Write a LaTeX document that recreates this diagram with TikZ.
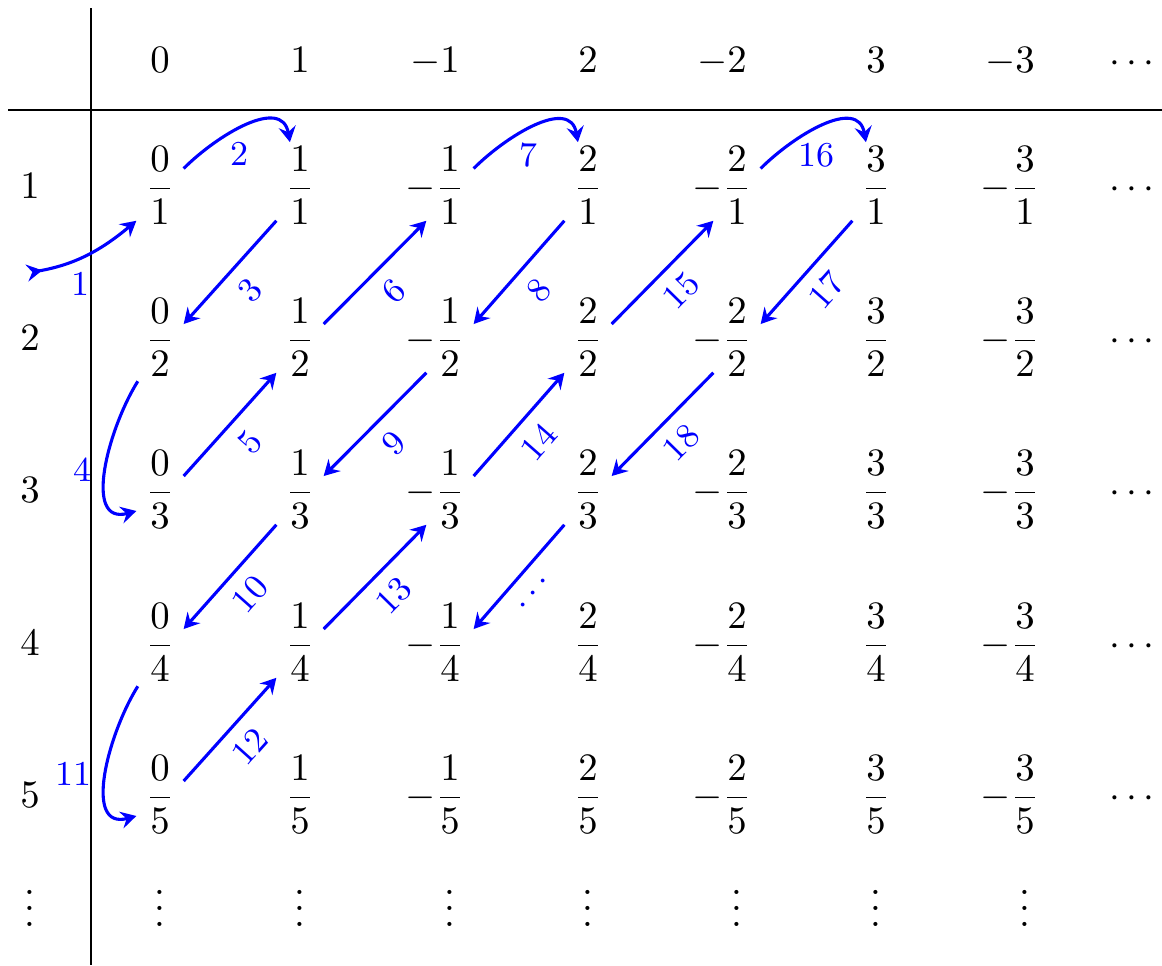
\documentclass[tikz,border=0pt]{standalone}
\usepackage{amsmath}
\usepackage{amssymb}
\usepackage{xcolor}
\usepackage{tikz}
\usetikzlibrary{arrows.meta, positioning}

\newcommand{\mfrac}[2]{\llap{$-$}{\dfrac{#1}{#2}}}

\tikzset{
  >={Stealth[length=4pt, width=4.4pt, inset=1.4pt]},
  entry/.style={anchor=base, inner xsep=2.2pt, inner ysep=1pt},
  head/.style={anchor=base},
  walk/.style={blue, thick, ->},
  num/.style={font=\small, text=blue},
}

\begin{document}
\begin{tikzpicture}[x=0.00906cm, y=-0.00906cm]
  \useasboundingbox (0,0) rectangle (1162,965);
  % Table rules
  \draw (91,8) -- (91,965);
  \draw (8,110) -- (1162,110);
  % Column heads
  \node[head] (h1) at (160,72) {$0$};
  \node[head] (h2) at (300,72) {$1$};
  \node[head] (h3) at (435,72) {$-1$};
  \node[head] (h4) at (588,72) {$2$};
  \node[head] (h5) at (722,72) {$-2$};
  \node[head] (h6) at (876,72) {$3$};
  \node[head] (h7) at (1010,72) {$-3$};
  \node[head] (h8) at (1135,72) {$\cdots$};
  % Row heads
  \node[head] (r1) at (30,198) {$1$};
  \node[head] (r2) at (30,350) {$2$};
  \node[head] (r3) at (30,502) {$3$};
  \node[head] (r4) at (30,655) {$4$};
  \node[head] (r5) at (30,807) {$5$};
  \node[head] (r6) at (30,926) {$\vdots$};
  % Row 1
  \node[entry] (f11) at (160,198) {$\dfrac{0}{1}$};
  \node[entry] (f12) at (300,198) {$\dfrac{1}{1}$};
  \node[entry] (f13) at (450,198) {$\mfrac{1}{1}$};
  \node[entry] (f14) at (588,198) {$\dfrac{2}{1}$};
  \node[entry] (f15) at (737,198) {$\mfrac{2}{1}$};
  \node[entry] (f16) at (876,198) {$\dfrac{3}{1}$};
  \node[entry] (f17) at (1025,198) {$\mfrac{3}{1}$};
  \node[head] (e1) at (1135,198) {$\cdots$};
  % Row 2
  \node[entry] (f21) at (160,350) {$\dfrac{0}{2}$};
  \node[entry] (f22) at (300,350) {$\dfrac{1}{2}$};
  \node[entry] (f23) at (450,350) {$\mfrac{1}{2}$};
  \node[entry] (f24) at (588,350) {$\dfrac{2}{2}$};
  \node[entry] (f25) at (737,350) {$\mfrac{2}{2}$};
  \node[entry] (f26) at (876,350) {$\dfrac{3}{2}$};
  \node[entry] (f27) at (1025,350) {$\mfrac{3}{2}$};
  \node[head] (e2) at (1135,350) {$\cdots$};
  % Row 3
  \node[entry] (f31) at (160,502) {$\dfrac{0}{3}$};
  \node[entry] (f32) at (300,502) {$\dfrac{1}{3}$};
  \node[entry] (f33) at (450,502) {$\mfrac{1}{3}$};
  \node[entry] (f34) at (588,502) {$\dfrac{2}{3}$};
  \node[entry] (f35) at (737,502) {$\mfrac{2}{3}$};
  \node[entry] (f36) at (876,502) {$\dfrac{3}{3}$};
  \node[entry] (f37) at (1025,502) {$\mfrac{3}{3}$};
  \node[head] (e3) at (1135,502) {$\cdots$};
  % Row 4
  \node[entry] (f41) at (160,655) {$\dfrac{0}{4}$};
  \node[entry] (f42) at (300,655) {$\dfrac{1}{4}$};
  \node[entry] (f43) at (450,655) {$\mfrac{1}{4}$};
  \node[entry] (f44) at (588,655) {$\dfrac{2}{4}$};
  \node[entry] (f45) at (737,655) {$\mfrac{2}{4}$};
  \node[entry] (f46) at (876,655) {$\dfrac{3}{4}$};
  \node[entry] (f47) at (1025,655) {$\mfrac{3}{4}$};
  \node[head] (e4) at (1135,655) {$\cdots$};
  % Row 5
  \node[entry] (f51) at (160,807) {$\dfrac{0}{5}$};
  \node[entry] (f52) at (300,807) {$\dfrac{1}{5}$};
  \node[entry] (f53) at (450,807) {$\mfrac{1}{5}$};
  \node[entry] (f54) at (588,807) {$\dfrac{2}{5}$};
  \node[entry] (f55) at (737,807) {$\mfrac{2}{5}$};
  \node[entry] (f56) at (876,807) {$\dfrac{3}{5}$};
  \node[entry] (f57) at (1025,807) {$\mfrac{3}{5}$};
  \node[head] (e5) at (1135,807) {$\cdots$};
  % Last row
  \node[head] (v1) at (160,926) {$\vdots$};
  \node[head] (v2) at (300,926) {$\vdots$};
  \node[head] (v3) at (450,926) {$\vdots$};
  \node[head] (v4) at (588,926) {$\vdots$};
  \node[head] (v5) at (737,926) {$\vdots$};
  \node[head] (v6) at (876,926) {$\vdots$};
  \node[head] (v7) at (1025,926) {$\vdots$};
  % Counting path
  \coordinate (start) at (27,273);
  \draw[walk, >->] (start) to[out=10, in=220] node[num, pos=0.45, below] {1} (f11.236);
  \draw[walk] (f11.36) to[out=45, in=100, looseness=1.1] node[num, pos=0.45, below] {2} (f12.103);
  \draw[walk] (f12.236) -- node[num, sloped, below] {3} (f21.30);
  \draw[walk] (f21.243) to[out=238, in=195, looseness=1.1] node[num, left] {4} (f31.222);
  \draw[walk] (f31.30) -- node[num, sloped, below] {5} (f22.236);
  \draw[walk] (f22.30) -- node[num, sloped, below] {6} (f13.236);
  \draw[walk] (f13.36) to[out=45, in=100, looseness=1.1] node[num, pos=0.45, below] {7} (f14.103);
  \draw[walk] (f14.236) -- node[num, sloped, below] {8} (f23.30);
  \draw[walk] (f23.236) -- node[num, sloped, below] {9} (f32.30);
  \draw[walk] (f32.236) -- node[num, sloped, below] {10} (f41.30);
  \draw[walk] (f41.243) to[out=238, in=195, looseness=1.1] node[num, left] {11} (f51.222);
  \draw[walk] (f51.30) -- node[num, sloped, below] {12} (f42.236);
  \draw[walk] (f42.30) -- node[num, sloped, below] {13} (f33.236);
  \draw[walk] (f33.30) -- node[num, sloped, below] {14} (f24.236);
  \draw[walk] (f24.30) -- node[num, sloped, below] {15} (f15.236);
  \draw[walk] (f15.36) to[out=45, in=100, looseness=1.1] node[num, pos=0.45, below] {16} (f16.103);
  \draw[walk] (f16.236) -- node[num, sloped, below] {17} (f25.30);
  \draw[walk] (f25.236) -- node[num, sloped, below] {18} (f34.30);
  \draw[walk] (f34.236) -- node[num, sloped, below] {$\cdots$} (f43.30);
\end{tikzpicture}
\end{document}
